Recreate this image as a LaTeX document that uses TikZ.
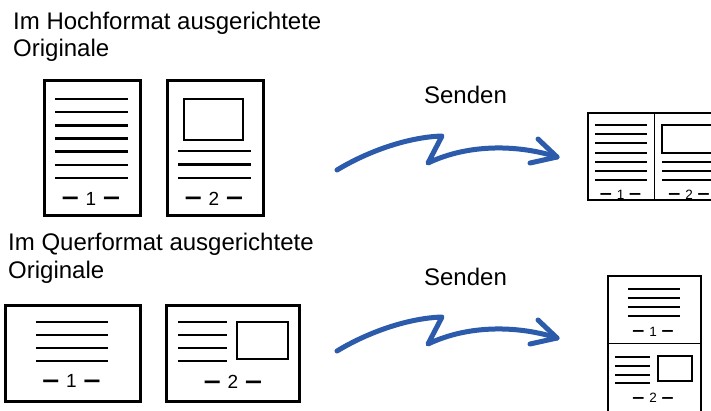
\documentclass[tikz,border=0pt]{standalone}
\usepackage{fontspec}
\setmainfont{Liberation Sans}
\usepackage{graphicx}
\definecolor{arrowblue}{RGB}{43,91,170}
\newcommand\pgdash{\raisebox{-0.03em}[0pt][0pt]{\scalebox{1.6}[1.4]{\bfseries –}}}
\newcommand\pgno[2]{{\fontsize{#2}{#2}\selectfont\spaceskip=0.36em\relax\pgdash{} #1 \pgdash}}
\tikzset{
  page/.style={draw, line width=2.6pt, inner sep=0pt, anchor=north west},
  thumb/.style={draw, line width=2.2pt, inner sep=0pt, anchor=north west},
  txtline/.style={line width=2.4pt},
  smline/.style={line width=2pt},
  divider/.style={line width=1pt},
  sendarrow/.style={draw=arrowblue, line width=5pt, line cap=round, line join=round},
  caption/.style={font=\fontsize{24}{27.5}\selectfont, align=left, inner sep=0pt, anchor=base west},
  sendlabel/.style={font=\fontsize{24}{28}\selectfont, inner sep=0pt, anchor=base},
  biglabel/.style={inner sep=0pt, anchor=center},
}
\begin{document}
\begin{tikzpicture}[x=1pt,y=-1pt]
\clip (0,0) rectangle (711,410);
\fill[white] (0,0) rectangle (711,410);

% ---------- captions (base anchor = last line) ----------
\node[caption] (cap1) at (13,56.7) {Im Hochformat ausgerichtete\\Originale};
\node[caption] (cap2) at (8,278) {Im Querformat ausgerichtete\\Originale};
\node[sendlabel] (send1) at (465.5,103) {Senden};
\node[sendlabel] (send2) at (465.5,285) {Senden};

% ---------- portrait originals ----------
\node[page, minimum width=96pt, minimum height=135pt] (p1) at (43,79) {};
\foreach \i in {0,...,6}
  \draw[txtline] (55,{99+13.15*\i}) -- (128,{99+13.15*\i});
\node[biglabel] (p1n) at (91,198.5) {\pgno{1}{19}};

\node[page, minimum width=96pt, minimum height=135pt] (p2) at (166,79) {};
\draw[txtline] (184,99) rectangle (243,140);
\foreach \y in {151,164.5,178}
  \draw[txtline] (178,\y) -- (251,\y);
\node[biglabel] (p2n) at (214,198.5) {\pgno{2}{19}};

% ---------- landscape originals ----------
\node[page, minimum width=135pt, minimum height=96pt] (p3) at (4,304) {};
\foreach \y in {322,335,348,361}
  \draw[txtline] (36,\y) -- (108,\y);
\node[biglabel] (p3n) at (71.5,381) {\pgno{1}{19}};

\node[page, minimum width=133pt, minimum height=96pt] (p4) at (165,304) {};
\foreach \y in {322,335,348,361}
  \draw[txtline] (178,\y) -- (227,\y);
\draw[txtline] (237,322) rectangle (288,359);
\node[biglabel] (p4n) at (233,382) {\pgno{2}{19}};

% ---------- arrows ----------
\coordinate (a1s) at (337,170);
\coordinate (a1e) at (557,157);
\draw[sendarrow] (a1s) .. controls (370,150) and (410,137) .. (442,136)
   -- (428,163) .. controls (470,143) and (520,145) .. (a1e);
\draw[sendarrow] (538,139) -- (a1e) -- (530,163);

\coordinate (a2s) at (337,351);
\coordinate (a2e) at (557,338);
\draw[sendarrow] (a2s) .. controls (370,331) and (410,318) .. (442,317)
   -- (428,344) .. controls (470,324) and (520,326) .. (a2e);
\draw[sendarrow] (538,320) -- (a2e) -- (530,344);

% ---------- result: portrait 2-up ----------
\node[thumb, minimum width=134pt, minimum height=87pt] (t1) at (587,112) {};
\draw[divider] (654,112) -- (654,199);
\foreach \i in {0,...,6}
  \draw[smline] (595,{125+9.17*\i}) -- (647,{125+9.17*\i});
\node[biglabel] (t1a) at (620.5,194.5) {\pgno{1}{13.5}};
\draw[smline] (662,125) rectangle (716,153);
\foreach \y in {162,171,180}
  \draw[smline] (662,\y) -- (716,\y);
\node[biglabel] (t1b) at (689,194.5) {\pgno{2}{13.5}};

% ---------- result: landscape 2-up ----------
\node[thumb, minimum width=93pt, minimum height=136pt] (t2) at (607,275) {};
\draw[divider] (607,343) -- (700,343);
\foreach \y in {289,298,307,316}
  \draw[smline] (628,\y) -- (680,\y);
\node[biglabel] (t2a) at (653,331.5) {\pgno{1}{13.5}};
\foreach \y in {357,366,374.5,383}
  \draw[smline] (615,\y) -- (650,\y);
\draw[smline] (658,356) rectangle (692,381);
\node[biglabel] (t2b) at (653,398) {\pgno{2}{13.5}};
\end{tikzpicture}
\end{document}
